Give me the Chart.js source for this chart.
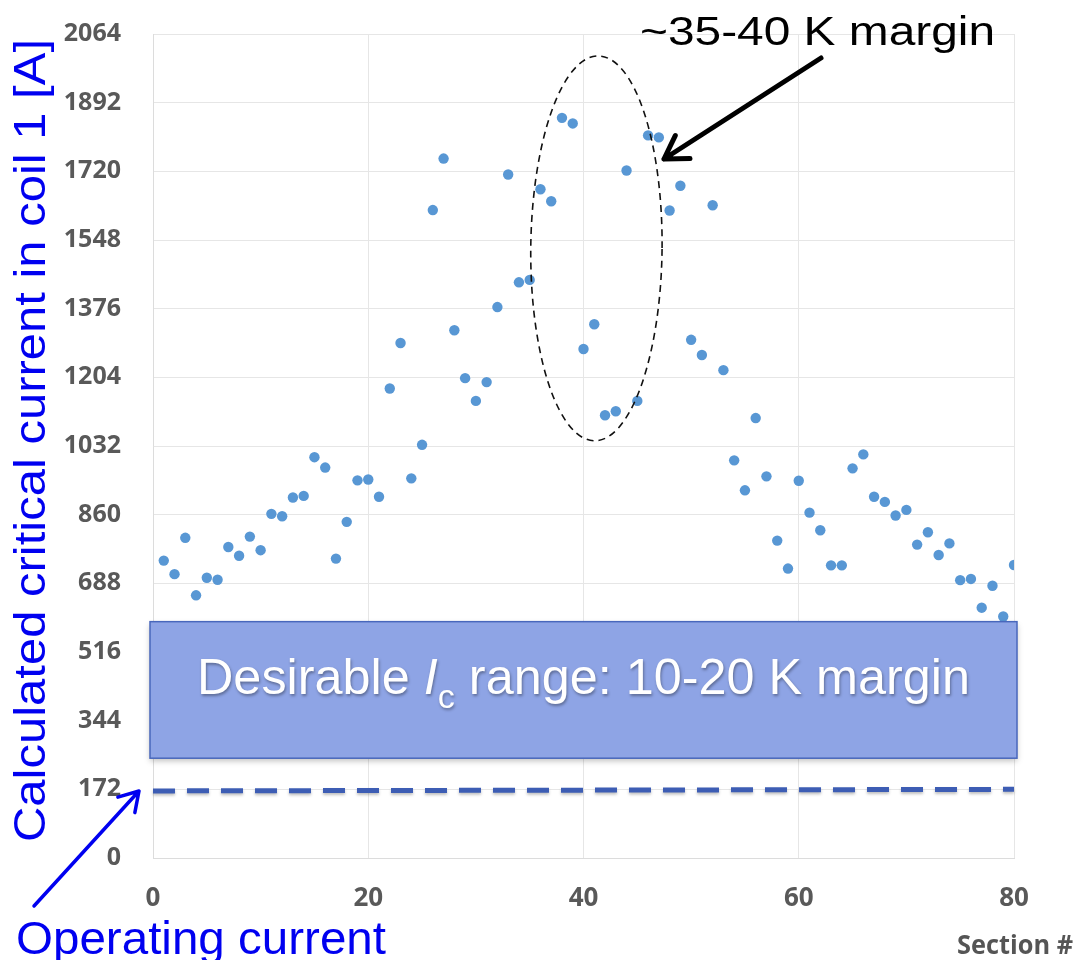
<!DOCTYPE html>
<html>
<head>
<meta charset="utf-8">
<script src="https://cdn.jsdelivr.net/npm/chart.js@4.4.1/dist/chart.umd.min.js"></script>
<style>
  html, body { margin: 0; padding: 0; background: #fff; }
  #wrap { width: 1075px; height: 960px; position: relative; }
</style>
</head>
<body>
<div id="wrap"><canvas id="chart" width="1075" height="960"></canvas></div>
<script>
// section numbers and calculated critical current (A)
const sections = Array.from({ length: 80 }, (_, i) => i + 1);
const criticalCurrent = [
  745, 711, 802, 658, 702, 697, 779, 757, 805, 771,
  862, 856, 903, 907, 1004, 978, 750, 842, 946, 948,
  905, 1176, 1290, 951, 1035, 1623, 1752, 1322, 1202, 1145,
  1192, 1380, 1712, 1442, 1448, 1675, 1645, 1854, 1840, 1275,
  1337, 1109, 1119, 1722, 1145, 1810, 1805, 1622, 1684, 1298,
  1260, 1635, 1222, 996, 921, 1102, 956, 795, 725, 945,
  865, 821, 733, 733, 976, 1011, 905, 892, 858, 872,
  785, 816, 759, 788, 696, 699, 627, 682, 605, 734
];
const yTicks = [0, 172, 344, 516, 688, 860, 1032, 1204, 1376, 1548, 1720, 1892, 2064];
const xTicks = [0, 20, 40, 60, 80];

// annotation values (data units)
const operatingCurrent = [168, 172];      // left, right end of dashed line
const desirableRange = [250, 592];        // box bottom, top
const marginEllipse = { x: 41.2, y: 1527, rx: 6.1, ry: 482 };

const ctx = document.getElementById('chart');

function fitText(c, text, x, y, width) {
  const w = c.measureText(text).width;
  c.save();
  c.translate(x, y);
  c.scale(width / w, 1);
  c.textAlign = 'left';
  c.fillText(text, 0, 0);
  c.restore();
}

function arrow(c, x1, y1, x2, y2, head, lw, color) {
  const a = Math.atan2(y2 - y1, x2 - x1);
  c.save();
  c.strokeStyle = color;
  c.lineWidth = lw;
  c.lineCap = 'round';
  c.lineJoin = 'round';
  c.beginPath();
  c.moveTo(x1, y1);
  c.lineTo(x2, y2);
  c.moveTo(x2 - head * Math.cos(a - 0.55), y2 - head * Math.sin(a - 0.55));
  c.lineTo(x2, y2);
  c.lineTo(x2 - head * Math.cos(a + 0.55), y2 - head * Math.sin(a + 0.55));
  c.stroke();
  c.restore();
}

// annotations block
const annotations = {
  id: 'annotations',
  afterDatasetsDraw(chart) {
    const { ctx: c, scales: { x, y } } = chart;

    // desirable range box
    const bx1 = x.getPixelForValue(0) - 3, bx2 = x.getPixelForValue(80) + 3;
    const by1 = y.getPixelForValue(desirableRange[1]), by2 = y.getPixelForValue(desirableRange[0]);
    c.save();
    c.shadowColor = 'rgba(0,0,0,0.25)';
    c.shadowBlur = 6;
    c.shadowOffsetY = 3;
    c.fillStyle = 'rgb(142,164,229)';
    c.fillRect(bx1, by1, bx2 - bx1, by2 - by1);
    c.restore();
    c.save();
    c.strokeStyle = '#4867BC';
    c.lineWidth = 1.5;
    c.strokeRect(bx1, by1, bx2 - bx1, by2 - by1);

    // box text
    c.fillStyle = '#fff';
    c.shadowColor = 'rgba(0,0,0,0.35)';
    c.shadowBlur = 3;
    c.shadowOffsetX = 1;
    c.shadowOffsetY = 2;
    c.textBaseline = 'alphabetic';
    c.textAlign = 'left';
    const base = 694;
    const parts = [
      { t: 'Desirable ', f: '50px "Liberation Sans"', dy: 0 },
      { t: 'I', f: 'italic 50px "Liberation Sans"', dy: 0 },
      { t: 'c', f: '34px "Liberation Sans"', dy: 14 },
      { t: ' range: 10-20 K margin', f: '50px "Liberation Sans"', dy: 0 }
    ];
    let total = 0;
    parts.forEach(p => { c.font = p.f; p.w = c.measureText(p.t).width; total += p.w; });
    const target = 773, sx = target / total;
    let cx = 197;
    parts.forEach(p => {
      c.font = p.f;
      c.save();
      c.translate(cx, base + p.dy);
      c.scale(sx, 1);
      c.fillText(p.t, 0, 0);
      c.restore();
      cx += p.w * sx;
    });
    c.restore();

    // operating current dashed line
    c.save();
    c.strokeStyle = '#3D5DB4';
    c.lineWidth = 5;
    c.setLineDash([22, 12]);
    c.shadowColor = 'rgba(0,0,0,0.25)';
    c.shadowBlur = 3;
    c.shadowOffsetY = 2;
    c.beginPath();
    c.moveTo(x.getPixelForValue(0), y.getPixelForValue(operatingCurrent[0]));
    c.lineTo(x.getPixelForValue(80), y.getPixelForValue(operatingCurrent[1]));
    c.stroke();
    c.restore();

    // dashed ellipse around the high-margin sections
    const ex = x.getPixelForValue(marginEllipse.x), ey = y.getPixelForValue(marginEllipse.y);
    const erx = x.getPixelForValue(marginEllipse.x + marginEllipse.rx) - ex;
    const ery = ey - y.getPixelForValue(marginEllipse.y + marginEllipse.ry);
    c.save();
    c.strokeStyle = '#111';
    c.lineWidth = 1.6;
    c.setLineDash([7, 5]);
    c.beginPath();
    c.ellipse(ex, ey, erx, ery, 0.01, 0, Math.PI * 2);
    c.stroke();
    c.restore();

    // arrows
    arrow(c, 821, 58, 664, 159, 26, 5, '#000');
    arrow(c, 34, 906, 139, 791, 22, 3.5, '#0000F0');

    // texts
    c.save();
    c.textBaseline = 'alphabetic';
    c.fillStyle = '#000';
    c.font = '40px "Liberation Sans"';
    fitText(c, '~35-40 K margin', 640, 45, 355);
    c.fillStyle = '#0000F0';
    c.font = '46px "Liberation Sans"';
    fitText(c, 'Operating current', 16, 954, 370);
    c.fillStyle = '#555';
    c.font = 'bold 27px "Open Sans"';
    fitText(c, 'Section #', 957, 954, 116);
    c.restore();

    // y axis title
    c.save();
    c.fillStyle = '#0000F0';
    c.font = '45px "Liberation Sans"';
    c.textAlign = 'left';
    c.textBaseline = 'alphabetic';
    c.translate(45, 842);
    c.rotate(-Math.PI / 2);
    const title = 'Calculated critical current in coil 1 [A]';
    const tw = c.measureText(title).width;
    c.scale(803 / tw, 1);
    c.fillText(title, 0, 0);
    c.restore();
  }
};

const dataScatter = {
  datasets: [{
    label: 'Critical current',
    data: sections.map((s, i) => ({ x: s, y: criticalCurrent[i] })),
    backgroundColor: 'rgb(88,151,212)',
    borderColor: 'rgb(88,151,212)',
    pointRadius: 5.2,
    pointHoverRadius: 5.2,
    borderWidth: 0
  }]
};

const configScatter = {
  type: 'scatter',
  data: dataScatter,
  options: {
    responsive: false,
    animation: false,
    layout: { padding: { left: 0, right: 61, top: 34, bottom: 0 } },
    plugins: {
      legend: { display: false },
      tooltip: { enabled: false }
    },
    scales: {
      x: {
        type: 'linear',
        min: 0,
        max: 80,
        afterBuildTicks: (scale) => { scale.ticks = xTicks.map(v => ({ value: v })); },
        afterFit: (scale) => { scale.height = 102; },
        grid: { color: '#e6e6e6', drawTicks: true, tickLength: 25, tickColor: 'rgba(0,0,0,0)' },
        border: { color: '#dcdcdc' },
        ticks: {
          padding: 0,
          color: '#595959',
          callback: (v) => String(v),
          font: { family: 'Open Sans', weight: 'bold', size: 26 }
        }
      },
      y: {
        min: 0,
        max: 2064,
        afterBuildTicks: (scale) => { scale.ticks = yTicks.map(v => ({ value: v })); },
        afterFit: (scale) => { scale.width = 153; },
        grid: { color: '#e6e6e6', drawTicks: true, tickLength: 32, tickColor: 'rgba(0,0,0,0)' },
        border: { color: '#dcdcdc' },
        ticks: {
          padding: 0,
          color: '#595959',
          callback: (v) => String(v),
          font: { family: 'Open Sans', weight: 'bold', size: 25 }
        }
      }
    }
  },
  plugins: [annotations]
};

const chart = new Chart(ctx, configScatter);
</script>
</body>
</html>
